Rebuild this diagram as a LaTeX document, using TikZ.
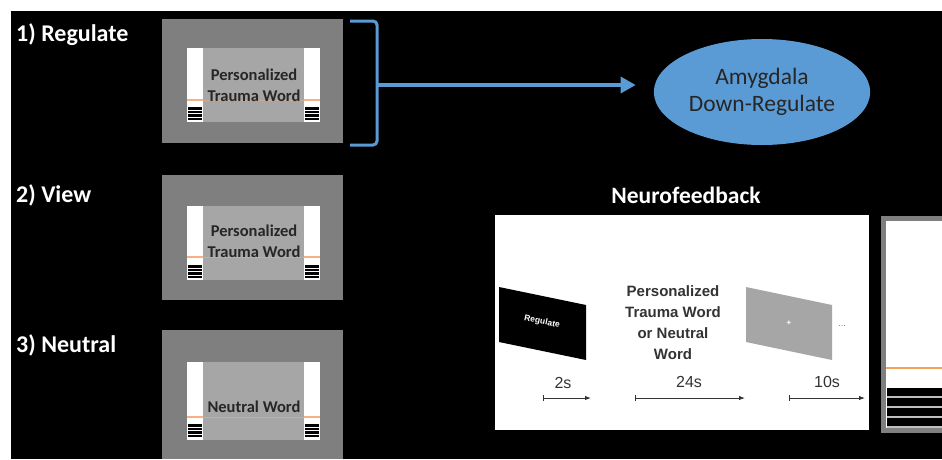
\documentclass[tikz,border=0pt]{standalone}
\usepackage{fontspec}
\setmainfont{Carlito}
\newfontfamily\arialfont{Liberation Sans}
\usetikzlibrary{arrows.meta,shapes.geometric}
\definecolor{scrgray}{HTML}{7F7F7F}
\definecolor{wordgray}{HTML}{A6A6A6}
\definecolor{fbblue}{HTML}{5B9BD5}
\definecolor{barorange}{HTML}{F4B183}
\definecolor{liveorange}{HTML}{F4A25A}
\definecolor{darktext}{HTML}{262626}
\definecolor{paneltext}{HTML}{333333}

\begin{document}
\begin{tikzpicture}[x=1pt,y=-1pt,
	steplabel/.style={anchor=west, text=white, inner sep=0pt, font=\fontsize{24}{28}\selectfont\bfseries},
	wordtext/.style={text=darktext, align=center, inner sep=0pt, font=\fontsize{16.5}{21}\selectfont\bfseries},
	paneltxt/.style={text=paneltext, align=center, inner sep=0pt, font=\arialfont\bfseries\fontsize{15}{21}\selectfont},
	durtxt/.style={text=paneltext, inner sep=0pt, font=\arialfont\fontsize{16}{19}\selectfont},
	timearrow/.style={draw=paneltext, line width=1pt, {Bar[width=6pt]}-{Latex[length=6pt,width=4.5pt]}}]

	% Background
	\fill[white] (0,0) rectangle (942,459);
	\fill[black] (11,11) rectangle (942,459);
	\useasboundingbox (0,0) rectangle (942,459);

	% Step labels
	\node[steplabel] (lblreg) at (16,35) {1) Regulate};
	\node[steplabel] (lblview) at (16,195) {2) View};
	\node[steplabel] (lblneut) at (16,345) {3) Neutral};

	% Three screens
	\foreach \ot/\ob/\it/\ib/\org/\st in {19/143/48/122/100/107, 175/300/206/280/257/265, 330/459/362/440/417/424} {
		\fill[scrgray] (162,\ot) rectangle (343,\ob);
		\fill[wordgray] (187,\it) rectangle (320,\ib);
		\fill[white] (187,\it) rectangle (203,\ib);
		\fill[white] (304,\it) rectangle (320,\ib);
		\draw[barorange!45!wordgray, line width=1pt] (203,\org) -- (304,\org);
		\draw[barorange, line width=1.2pt] (187,\org) -- (203,\org) (304,\org) -- (320,\org);
		\foreach \k in {0,1,2,3} {
			\fill[black] (188,\st+\k*3.6) rectangle (202,\st+\k*3.6+2.6);
			\fill[black] (305,\st+\k*3.6) rectangle (319,\st+\k*3.6+2.6);
		}
	}
	\node[wordtext] (word1) at (254,85) {Personalized\\Trauma Word};
	\node[wordtext] (word2) at (254,241) {Personalized\\Trauma Word};
	\node[wordtext] (word3) at (254,407) {Neutral Word};

	% Bracket and arrow
	\draw[fbblue, line width=3pt, rounded corners=4pt] (350,21) -- (377,21) -- (377,145) -- (350,145);
	\coordinate (brace) at (377,85);
	\node[ellipse, fill=fbblue, minimum width=212pt, minimum height=106pt, text=darktext, align=center,
		font=\fontsize{23.5}{27}\selectfont] (amyg) at (762,92) {Amygdala\\Down-Regulate};
	\draw[fbblue, line width=3.5pt, -{Triangle[length=15pt,width=16pt]}, shorten >=18pt] (brace) -- (brace -| amyg.west);

	% Neurofeedback panel
	\node[text=white, inner sep=0pt, font=\fontsize{23.5}{27}\selectfont\bfseries] (nftitle) at (686,195) {Neurofeedback};
	\fill[white] (495,215) rectangle (869,430);

	%Regulate cue
	\fill[black] (499,287) -- (586,305) -- (586,360) -- (499,342) -- cycle;
	\node[text=white, rotate=-11.5, inner sep=0pt, font=\arialfont\bfseries\fontsize{8.5}{10}\selectfont] (regcue) at (542,322) {Regulate};
	%Word
	\node[paneltxt] (cueword) at (673,323) {Personalized\\Trauma Word\\or Neutral\\Word};
	%Fixation
	\fill[wordgray] (746,287) -- (832,305) -- (832,360) -- (746,342) -- cycle;
	\node[text=white, inner sep=0pt, font=\arialfont\bfseries\fontsize{8}{9}\selectfont] (fix) at (789,323) {+};
	\node[text=gray, inner sep=0pt, font=\arialfont\fontsize{9}{10}\selectfont] (dots) at (842,326) {...};

	% Durations
	\node[durtxt] (t2) at (563,383) {2s};
	\node[durtxt] (t24) at (689,382) {24s};
	\node[durtxt] (t10) at (827,382) {10s};
	\coordinate (a1s) at (543,398);
	\coordinate (a1e) at (591,398);
	\coordinate (a2s) at (635,398);
	\coordinate (a2e) at (745,398);
	\coordinate (a3s) at (789,398);
	\coordinate (a3e) at (865,398);
	\draw[timearrow] (a1s) -- (a1e);
	\draw[timearrow] (a2s) -- (a2e);
	\draw[timearrow] (a3s) -- (a3e);

	% Feedback screen at right edge
	\fill[scrgray] (881,216) rectangle (942,433);
	\fill[white] (886,221) rectangle (942,428);
	\draw[liveorange, line width=1.2pt] (886,368) -- (942,368);
	\fill[gray!50] (887,388) rectangle (942,428);
	\foreach \k in {0,1,2,3} {
		\fill[black] (887,388+\k*10) rectangle (942,396+\k*10);
	}

\end{tikzpicture}
\end{document}
